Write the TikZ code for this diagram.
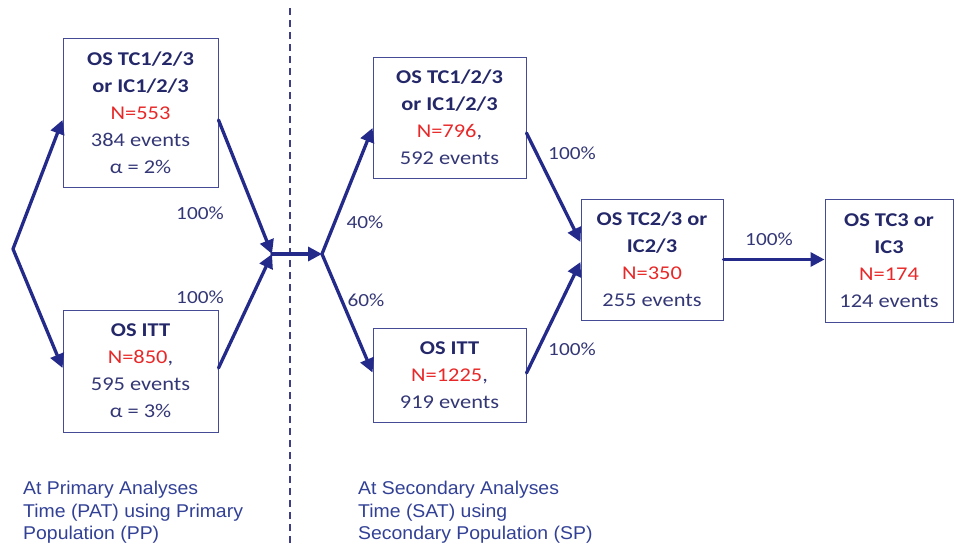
\documentclass[tikz,border=0pt]{standalone}
\usepackage{fontspec}
\usetikzlibrary{arrows.meta,calc}
\newfontfamily\boxfont[FakeStretch=1.15]{Carlito}
\newfontfamily\notefont[FakeStretch=1.05]{Liberation Sans}
\definecolor{arrowc}{RGB}{36,42,138}
\definecolor{boldc}{RGB}{36,40,105}
\definecolor{txtc}{RGB}{52,55,118}
\definecolor{redc}{RGB}{232,40,40}
\definecolor{notec}{RGB}{50,65,150}
\definecolor{boxc}{RGB}{70,75,150}
\definecolor{dashc}{RGB}{62,62,135}
\tikzset{
  boxnode/.style={draw=boxc, line width=1pt, inner sep=0pt, align=center,
    text=txtc, font=\fontsize{19.5}{27}\boxfont},
  arr/.style={draw=arrowc, line width=3.3pt, line cap=round,
    -{Triangle[length=14pt,width=14pt]}},
  pct/.style={text=txtc, font=\fontsize{18.5}{22}\boxfont, inner sep=0pt},
  note/.style={text=notec, align=left, inner sep=0pt,
    font=\fontsize{18.5}{22.5}\notefont},
  dashline/.style={draw=dashc, line width=2.2pt, dash pattern=on 7pt off 5pt}
}
\newcommand{\nred}[1]{\textcolor{redc}{#1}}
\newcommand{\bt}[1]{\textcolor{boldc}{\bfseries #1}}
\begin{document}
\begin{tikzpicture}[x=1pt,y=-1pt]
\useasboundingbox (0,0) rectangle (957,546);
% dashed separator
\coordinate (dtop) at (290,8);
\coordinate (dbot) at (290,546);
\draw[dashline] (dtop) -- (dbot);
% boxes
\node[boxnode, minimum width=155pt, minimum height=149pt] (b1) at (140.5,112.5)
  {\bt{OS TC1/2/3}\\\bt{or IC1/2/3}\\\nred{N=553}\\384 events\\α = 2\%};
\node[boxnode, minimum width=155pt, minimum height=122pt] (b2) at (140.5,371)
  {\bt{OS ITT}\\\nred{N=850},\\595 events\\α = 3\%};
\node[boxnode, minimum width=153pt, minimum height=121pt] (b3) at (449.5,117.5)
  {\bt{OS TC1/2/3}\\\bt{or IC1/2/3}\\\nred{N=796},\\592 events};
\node[boxnode, minimum width=153pt, minimum height=94pt] (b4) at (449.5,375)
  {\bt{OS ITT}\\\nred{N=1225},\\919 events};
\node[boxnode, minimum width=142pt, minimum height=121pt] (b5) at (652,259.5)
  {\bt{OS TC2/3 or}\\\bt{IC2/3}\\\nred{N=350}\\255 events};
\node[boxnode, minimum width=128pt, minimum height=123pt] (b6) at (889,260.5)
  {\bt{OS TC3 or}\\\bt{IC3}\\\nred{N=174}\\124 events};
% junction points
\coordinate (fork) at (13,249);
\coordinate (join) at (272,254);
\coordinate (split) at (322,254);
% connectors
\draw[arr] (fork) -- ($(b1.west)+(0,7.5)$);
\draw[arr] (fork) -- ($(b2.west)+(0,-3)$);
\draw[arr] ($(b1.east)+(0,7.5)$) -- (join);
\draw[arr] ($(b2.east)+(0,-3)$) -- (join);
\draw[arr] (join) -- (split);
\draw[arr] (split) -- ($(b3.west)+(0,10.5)$);
\draw[arr] (split) -- ($(b4.west)+(0,-2.5)$);
\draw[arr] ($(b3.east)+(0,15.5)$) -- ($(b5.west)+(0,-17.5)$);
\draw[arr] ($(b4.east)+(0,-2)$) -- ($(b5.west)+(0,2.5)$);
\draw[arr] (b5.east) -- (b5.east -| b6.west);
% percentage labels
\node[pct] (p1) at (200,213) {100\%};
\node[pct] (p2) at (200,297) {100\%};
\node[pct] (p3) at (365,222) {40\%};
\node[pct] (p4) at (366,300) {60\%};
\node[pct] (p5) at (572,153) {100\%};
\node[pct] (p6) at (572,349) {100\%};
\node[pct] (p7) at (769,239) {100\%};
% notes
\node[note, anchor=west] (n1) at (23,512.7)
  {At Primary Analyses\\Time (PAT) using Primary\\Population (PP)};
\node[note, anchor=west] (n2) at (358,512.7)
  {At Secondary Analyses\\Time (SAT) using\\Secondary Population (SP)};
\end{tikzpicture}
\end{document}
